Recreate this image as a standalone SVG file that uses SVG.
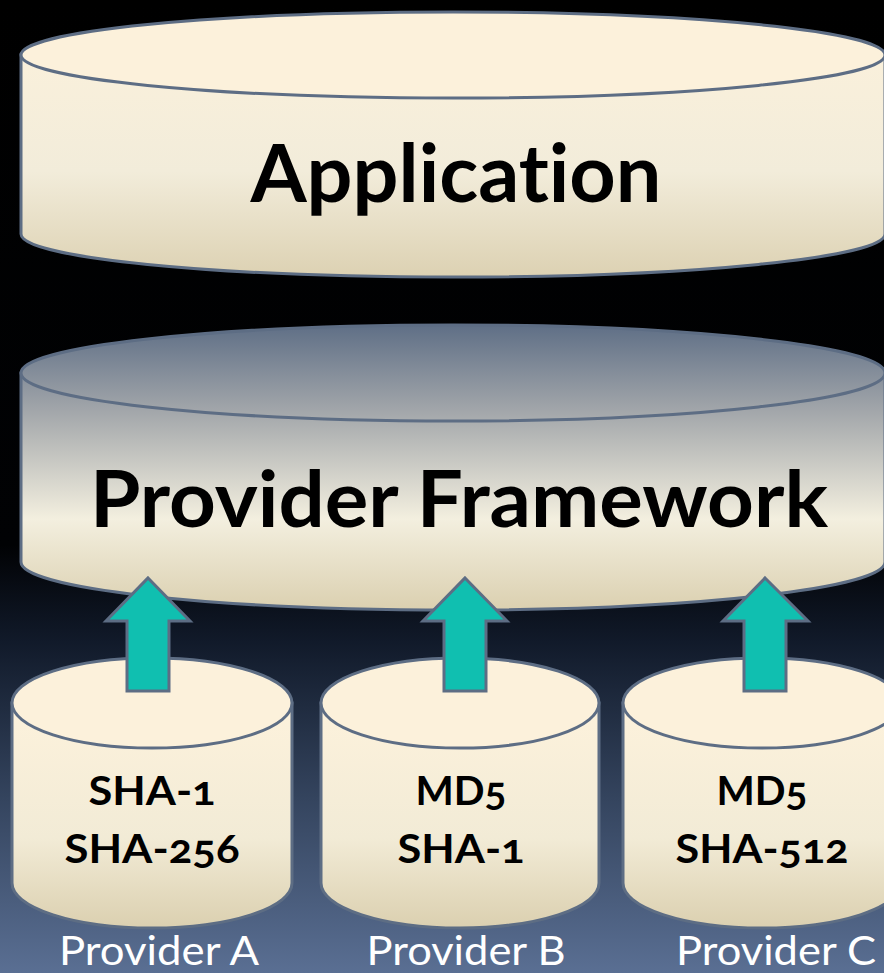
<svg xmlns="http://www.w3.org/2000/svg" width="884" height="973" viewBox="0 0 884 973">
<defs>
<linearGradient id="bg" x1="0" y1="0" x2="0" y2="973" gradientUnits="userSpaceOnUse">
<stop offset="0" stop-color="#000"/>
<stop offset="0.56" stop-color="#010204"/>
<stop offset="0.66" stop-color="#111a2a"/>
<stop offset="0.82" stop-color="#34445e"/>
<stop offset="1" stop-color="#5a6f93"/>
</linearGradient>
<linearGradient id="appG" x1="0" y1="12" x2="0" y2="278" gradientUnits="userSpaceOnUse">
<stop offset="0" stop-color="#fdf2dc"/>
<stop offset="0.6" stop-color="#f2ecda"/>
<stop offset="1" stop-color="#dcd1b2"/>
</linearGradient>
<linearGradient id="fwG" x1="0" y1="325" x2="0" y2="610" gradientUnits="userSpaceOnUse">
<stop offset="0" stop-color="#5f6f86"/>
<stop offset="0.3" stop-color="#a2a6aa"/>
<stop offset="0.68" stop-color="#f3efdf"/>
<stop offset="1" stop-color="#dbd0b0"/>
</linearGradient>
<linearGradient id="smG" x1="0" y1="0" x2="0" y2="1">
<stop offset="0" stop-color="#fdf2dc"/>
<stop offset="0.6" stop-color="#f2ebd6"/>
<stop offset="1" stop-color="#dbd0b0"/>
</linearGradient>
</defs>
<style>
.cyl{stroke:#5d6d84;stroke-width:3}
.lbl{font-family:Lato,"Open Sans","Liberation Sans",sans-serif;font-weight:bold;fill:#000;text-anchor:middle;font-variant-numeric:oldstyle-nums;font-variant-ligatures:none;font-feature-settings:"liga" 0,"clig" 0,"dlig" 0,"calt" 0,"onum" 1}
.plbl{font-family:Lato,"Open Sans","Liberation Sans",sans-serif;fill:#fff;text-anchor:middle;font-size:40px}
.arr{fill:#10bfb0;stroke:#5d6d84;stroke-width:3;stroke-linejoin:miter}
</style>
<rect width="884" height="973" fill="url(#bg)"/>
<g id="application">
<path class="cyl" fill="url(#appG)" d="M21,55 L21,234 A432,43 0 0 0 885,234 L885,55 Z"/>
<ellipse class="cyl" cx="453" cy="55" rx="432" ry="43" fill="#fcf1db"/>
<text class="lbl" x="456" y="202" font-size="80" textLength="411" lengthAdjust="spacingAndGlyphs">Application</text>
</g>
<g id="framework">
<path class="cyl" fill="url(#fwG)" d="M21,373 L21,562 A432,48 0 0 0 885,562 L885,373 Z"/>
<ellipse class="cyl" cx="453" cy="373" rx="432" ry="48" fill="url(#fwG)"/>
<text class="lbl" x="459" y="527" font-size="78" textLength="738" lengthAdjust="spacingAndGlyphs">Provider Framework</text>
</g>
<g id="providerA">
<path class="cyl" fill="url(#smG)" d="M12,703 L12,883 A140,45 0 0 0 292,883 L292,703 Z"/>
<ellipse class="cyl" cx="152" cy="703" rx="140" ry="45" fill="#fcf1db"/>
<text class="lbl" x="152" y="805" font-size="40" textLength="127" lengthAdjust="spacingAndGlyphs">SHA-1</text>
<text class="lbl" x="152" y="863" font-size="40" textLength="175" lengthAdjust="spacingAndGlyphs">SHA-256</text>
<text class="plbl" x="159" y="965" textLength="200" lengthAdjust="spacingAndGlyphs">Provider A</text>
</g>
<g id="providerB">
<path class="cyl" fill="url(#smG)" d="M321,703 L321,883 A139,45 0 0 0 599,883 L599,703 Z"/>
<ellipse class="cyl" cx="460" cy="703" rx="139" ry="45" fill="#fcf1db"/>
<text class="lbl" x="461" y="805" font-size="40" textLength="91" lengthAdjust="spacingAndGlyphs">MD5</text>
<text class="lbl" x="461" y="863" font-size="40" textLength="127" lengthAdjust="spacingAndGlyphs">SHA-1</text>
<text class="plbl" x="466" y="965" textLength="199" lengthAdjust="spacingAndGlyphs">Provider B</text>
</g>
<g id="providerC">
<path class="cyl" fill="url(#smG)" d="M623,703 L623,883 A139,45 0 0 0 901,883 L901,703 Z"/>
<ellipse class="cyl" cx="762" cy="703" rx="139" ry="45" fill="#fcf1db"/>
<text class="lbl" x="762" y="805" font-size="40" textLength="91" lengthAdjust="spacingAndGlyphs">MD5</text>
<text class="lbl" x="762" y="863" font-size="40" textLength="173" lengthAdjust="spacingAndGlyphs">SHA-512</text>
<text class="plbl" x="776" y="965" textLength="200" lengthAdjust="spacingAndGlyphs">Provider C</text>
</g>
<g id="connectors">
<path class="arr" d="M148,578 L190,621 L169,621 L169,691 L127,691 L127,621 L106,621 Z"/>
<path class="arr" d="M465,578 L507,621 L486,621 L486,691 L444,691 L444,621 L423,621 Z"/>
<path class="arr" d="M765,578 L808,621 L786,621 L786,691 L744,691 L744,621 L723,621 Z"/>
</g>
</svg>
